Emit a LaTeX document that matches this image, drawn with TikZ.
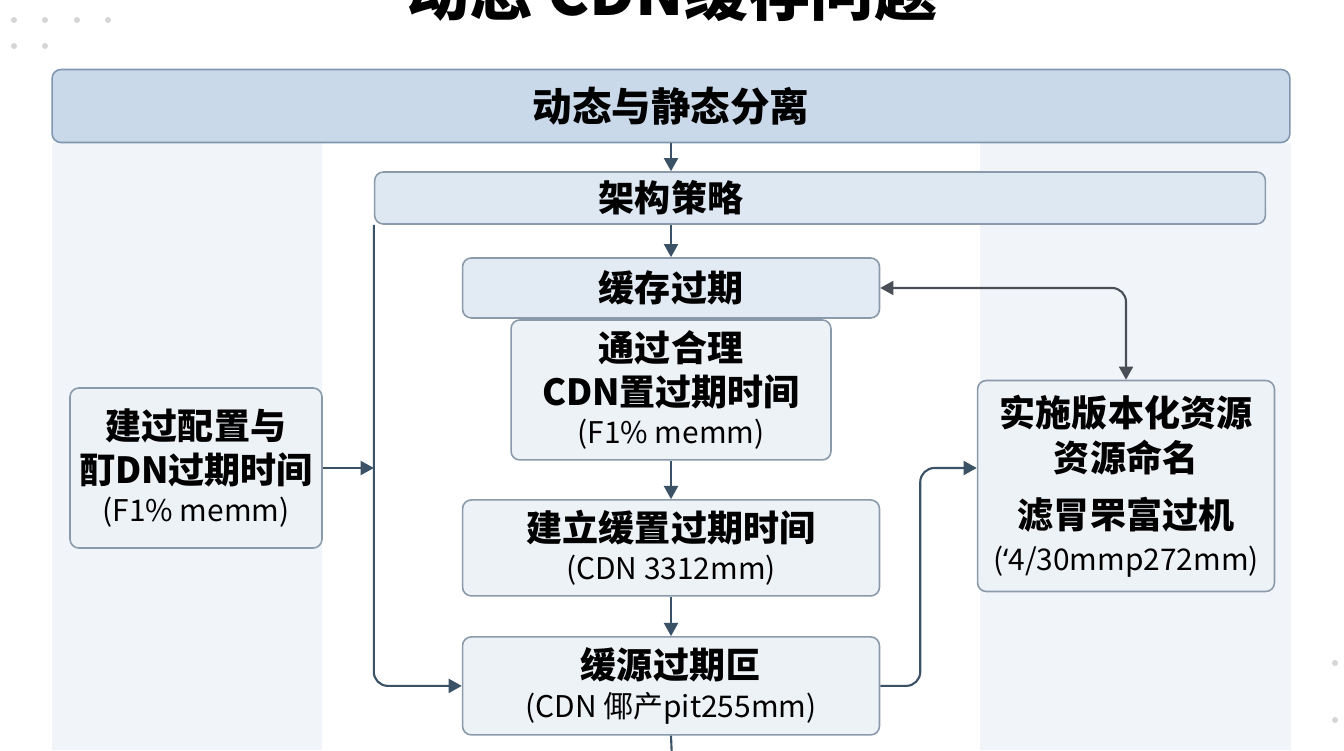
\documentclass[tikz,border=0pt]{standalone}
\usepackage{fontspec}
\setmainfont{Noto Sans CJK SC}
\newfontfamily\latinfont{Noto Sans}
\usepackage{tikz}
\usetikzlibrary{positioning,arrows.meta}

\definecolor{barblue}{HTML}{C9D9EA}
\definecolor{barline}{HTML}{7F96AE}
\definecolor{archfill}{HTML}{DEE8F2}
\definecolor{expfill}{HTML}{E2EAF3}
\definecolor{boxfill}{HTML}{EDF2F7}
\definecolor{boxline}{HTML}{8B9AAA}
\definecolor{panelbg}{HTML}{F1F5F9}
\definecolor{flowline}{HTML}{3B5266}
\definecolor{swapline}{HTML}{4A4F57}
\definecolor{dotgray}{HTML}{D6D6D6}

\newcommand{\titlefont}{\fontsize{36pt}{40pt}\selectfont\bfseries}
\newcommand{\barfont}{\fontsize{22.5pt}{26pt}\selectfont\bfseries}
\newcommand{\hdfont}{\fontsize{20.5pt}{25pt}\selectfont\bfseries}
\newcommand{\smtext}[1]{{\mdseries\fontsize{17pt}{20pt}\selectfont #1}}

\begin{document}
\begin{tikzpicture}[x=0.02cm,y=-0.02cm,
    node distance=2cm,on grid,>={Triangle[length=7.5pt,width=8pt]},
    box/.style={rectangle,rounded corners=5pt,draw=boxline,line width=0.9pt,
      inner sep=0pt,align=center,font=\hdfont,fill=boxfill},
    topbar/.style={box,fill=barblue,draw=barline,font=\barfont,
      minimum width=24.76cm,minimum height=1.46cm},
    archbar/.style={box,fill=archfill,minimum width=17.82cm,minimum height=1.04cm},
    wide/.style={box,minimum width=8.34cm},
    flow/.style={->,line width=1.2pt,draw=flowline},
    swap/.style={<->,line width=1.2pt,draw=swapline}]
  \useasboundingbox (0,0) rectangle (1344,750);
  \fill[white] (0,0) rectangle (1344,750);

  % side panels and dots
  \fill[panelbg] (52,143) rectangle (322,750);
  \fill[panelbg] (980,143) rectangle (1291,750);
  \foreach \x in {14,45,77,108} \fill[dotgray] (\x,20) circle (3);
  \foreach \x in {14,45} \fill[dotgray] (\x,46) circle (3);
  \foreach \y in {663,720} \fill[dotgray] (1335,\y) circle (3);

  % title (cut by the top edge)
  \node[font=\titlefont,anchor=base] (title) at (672,16) {动态 CDN缓存问题};

  % main column
  \node[topbar] (sep) at (671,106) {动态与静态分离};
  \node[archbar] (arch) at (820,198) {};
  \node[font=\hdfont] (archlbl) at (arch.center -| sep.center) {架构策略};
  \node[wide,fill=expfill,minimum height=1.2cm] (exp) [below=3.64cm of sep] {缓存过期};
  \node[box,minimum width=6.4cm,minimum height=2.8cm] (reason) [below=2.04cm of exp]
    {通过合理\\[0pt] CDN置过期时间\\[-3pt] \smtext{(F1\% memm)}};
  \node[wide,minimum height=1.92cm] (build) [below=3.16cm of reason]
    {建立缓置过期时间\\[-3pt] \smtext{(CDN 3312mm)}};
  \node[wide,minimum height=1.96cm] (src) [below=2.76cm of build]
    {缓源过期叵\\[-3pt] \smtext{(CDN 倻产pit255mm)}};

  % side boxes
  \node[box,minimum width=5.04cm,minimum height=3.2cm] (cfg) at (196,468)
    {建过配置与\\[0pt] 酊DN过期时间\\[-3pt] \smtext{(F1\% memm)}};
  \node[box,minimum width=5.94cm,minimum height=4.22cm] (ver) at (1126,486)
    {实施版本化资源\\[1pt] 资源命名\\[7pt] 滤冐罘富过机\\[-1pt]
     \smtext{({\latinfont ‘}4/30mmp272mm)}};

  % connectors
  \coordinate (below) at (672,760);
  \draw[flow] (sep.south) -- (sep.south |- arch.north);
  \draw[flow] (exp.north |- arch.south) -- (exp.north);
  \draw[flow] (reason.south) -- (build.north);
  \draw[flow] (build.south) -- (src.north);
  \draw[flow,-] (src.south) -- (below);
  \draw[flow,rounded corners=8] (arch.south west) -- (arch.south west |- src.west) -- (src.west);
  \draw[flow] (cfg.east) -- (cfg.east -| arch.south west);
  \draw[flow,rounded corners=8] (src.east) -- ++(40,0) |- (ver.west |- cfg.east);
  \draw[swap,rounded corners=8] (exp.east) -| (ver.north);
\end{tikzpicture}
\end{document}
